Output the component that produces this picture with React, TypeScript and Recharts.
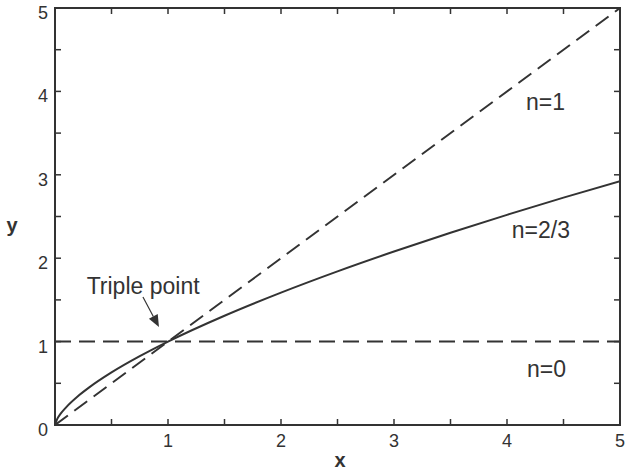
import React from "react";
import { LineChart, Line, XAxis, YAxis, ReferenceDot, ReferenceArea } from "recharts";

const tickValues = [0, 0.5, 1, 1.5, 2, 2.5, 3, 3.5, 4, 4.5, 5];
const xLabelTicks = [1, 2, 3, 4, 5];
const yLabelTicks = [0, 1, 2, 3, 4, 5];

const curveX = [0, 0.02, 0.05, 0.1, 0.2, 0.3, 0.5, 0.75, 1, 1.5, 2, 2.5, 3, 3.5, 4, 4.5, 5];
const curveY = [0, 0.074, 0.136, 0.215, 0.342, 0.448, 0.63, 0.825, 1, 1.31, 1.587, 1.842, 2.08, 2.305, 2.52, 2.726, 2.924];

const lineOneX = [0, 5];
const lineOneY = [0, 5];
const lineZeroX = [0, 5];
const lineZeroY = [1, 1];

const labels = [
  { text: "n=1", x: 4.34, y: 3.78 },
  { text: "n=2/3", x: 4.3, y: 2.24 },
  { text: "n=0", x: 4.35, y: 0.575 },
  { text: "Triple point", x: 0.78, y: 1.57 },
];
const arrowTip = { x: 0.92, y: 1.175 };

const toRows = (xs: number[], ys: number[]) => xs.map((x, i) => ({ x, y: ys[i] }));
const curveData = toRows(curveX, curveY);
const oneData = toRows(lineOneX, lineOneY);
const zeroData = toRows(lineZeroX, lineZeroY);

const INK = "#333333";
const FONT = "'Liberation Sans', Arial, Helvetica, sans-serif";
const TICK_LEN = 6;

const BottomLabel = (props: any) => {
  const { x, y, payload } = props;
  const v = payload.value;
  if (!xLabelTicks.includes(v)) return <g />;
  return (
    <text x={x} y={y + 22} textAnchor="middle" fontSize={18} fill={INK} fontFamily={FONT}>
      {v}
    </text>
  );
};

const LeftLabel = (props: any) => {
  const { x, y, payload } = props;
  const v = payload.value;
  if (!yLabelTicks.includes(v)) return <g />;
  return (
    <text x={x - 7} y={y + 11} textAnchor="end" fontSize={18} fill={INK} fontFamily={FONT}>
      {v}
    </text>
  );
};

// tick marks pointing inward: dx/dy is the direction into the plot
const TickShape = (dx: number, dy: number) => (props: any) => (
  <line
    x1={props.cx}
    y1={props.cy}
    x2={props.cx + dx * TICK_LEN}
    y2={props.cy + dy * TICK_LEN}
    stroke={INK}
    strokeWidth={1.5}
  />
);

const TextShape = (text: string) => (props: any) => (
  <text x={props.cx} y={props.cy} textAnchor="middle" fontSize={23} fill={INK} fontFamily={FONT}>
    {text}
  </text>
);

const ArrowShape = (props: any) => {
  const { cx, cy } = props;
  const tx = cx - 16;
  const ty = cy - 30;
  const ang = Math.atan2(cy - ty, cx - tx);
  const hl = 12;
  const hw = 5;
  const bx = cx - hl * Math.cos(ang);
  const by = cy - hl * Math.sin(ang);
  const px = -Math.sin(ang) * hw;
  const py = Math.cos(ang) * hw;
  return (
    <g>
      <line x1={tx} y1={ty} x2={bx} y2={by} stroke={INK} strokeWidth={1.2} />
      <polygon points={`${cx},${cy} ${bx + px},${by + py} ${bx - px},${by - py}`} fill={INK} />
    </g>
  );
};

export default function App() {
  return (
    <div style={{ position: "absolute", left: 0, top: 0, width: 625, height: 472, background: "#fff" }}>
      <LineChart width={625} height={472} margin={{ top: 8, right: 5, bottom: 0, left: 0 }}>
        <XAxis
          type="number"
          dataKey="x"
          domain={[0, 5]}
          ticks={tickValues}
          interval={0}
          height={47}
          tickSize={0}
          tickMargin={0}
          tickLine={false}
          axisLine={false}
          tick={<BottomLabel />}
          allowDataOverflow
        />
        <YAxis
          type="number"
          domain={[0, 5]}
          ticks={tickValues}
          interval={0}
          width={55}
          tickSize={0}
          tickMargin={0}
          tickLine={false}
          axisLine={false}
          tick={<LeftLabel />}
          allowDataOverflow
        />
        <Line
          data={zeroData}
          dataKey="y"
          type="linear"
          stroke={INK}
          strokeWidth={2}
          strokeDasharray="16 8"
          dot={false}
          activeDot={false}
          isAnimationActive={false}
        />
        <Line
          data={oneData}
          dataKey="y"
          type="linear"
          stroke={INK}
          strokeWidth={2}
          strokeDasharray="16 8"
          dot={false}
          activeDot={false}
          isAnimationActive={false}
        />
        <Line
          data={curveData}
          dataKey="y"
          type="monotone"
          stroke={INK}
          strokeWidth={2}
          dot={false}
          activeDot={false}
          isAnimationActive={false}
        />
        <ReferenceArea
          x1={0}
          x2={5}
          y1={0}
          y2={5}
          fill="none"
          fillOpacity={0}
          stroke={INK}
          strokeWidth={2}
          ifOverflow="visible"
        />
        {tickValues.map((v) => (
          <ReferenceDot key={`b${v}`} x={v} y={0} r={0} shape={TickShape(0, -1)} ifOverflow="visible" />
        ))}
        {tickValues.map((v) => (
          <ReferenceDot key={`t${v}`} x={v} y={5} r={0} shape={TickShape(0, 1)} ifOverflow="visible" />
        ))}
        {tickValues.map((v) => (
          <ReferenceDot key={`l${v}`} x={0} y={v} r={0} shape={TickShape(1, 0)} ifOverflow="visible" />
        ))}
        {tickValues.map((v) => (
          <ReferenceDot key={`r${v}`} x={5} y={v} r={0} shape={TickShape(-1, 0)} ifOverflow="visible" />
        ))}
        {labels.map((l) => (
          <ReferenceDot key={l.text} x={l.x} y={l.y} r={0} shape={TextShape(l.text)} ifOverflow="visible" />
        ))}
        <ReferenceDot x={arrowTip.x} y={arrowTip.y} r={0} shape={ArrowShape} ifOverflow="visible" />
        <text x={12} y={232} textAnchor="middle" fontSize={20} fontWeight="bold" fill={INK} fontFamily={FONT}>
          y
        </text>
        <text x={340} y={467} textAnchor="middle" fontSize={20} fontWeight="bold" fill={INK} fontFamily={FONT}>
          x
        </text>
      </LineChart>
    </div>
  );
}
